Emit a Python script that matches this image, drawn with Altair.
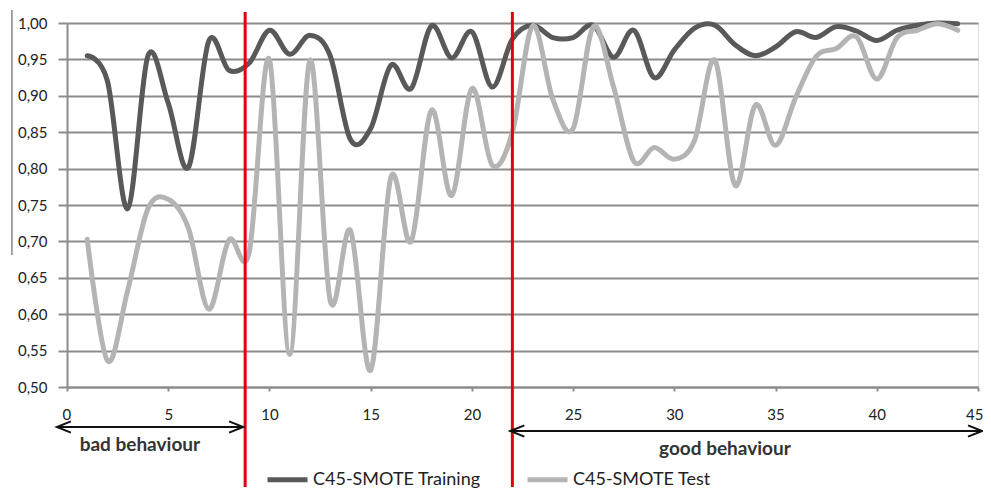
import altair as alt
import pandas as pd

# ---- data ----
x_vals = list(range(1, 45))
train = [0.955, 0.92, 0.745, 0.955, 0.89, 0.802, 0.975, 0.935, 0.945, 0.99,
         0.957, 0.983, 0.955, 0.84, 0.855, 0.942, 0.91, 0.996, 0.952, 0.988,
         0.912, 0.978, 0.997, 0.98, 0.98, 0.997, 0.953, 0.99, 0.925, 0.963,
         0.993, 0.997, 0.97, 0.955, 0.967, 0.988, 0.98, 0.995, 0.989, 0.976,
         0.99, 0.997, 1.0, 0.999]
test = [0.703, 0.536, 0.633, 0.745, 0.758, 0.718, 0.607, 0.702, 0.685, 0.95,
        0.545, 0.949, 0.619, 0.715, 0.523, 0.788, 0.70, 0.88, 0.763, 0.91,
        0.805, 0.85, 0.996, 0.895, 0.855, 0.995, 0.912, 0.81, 0.829, 0.813,
        0.839, 0.949, 0.777, 0.887, 0.832, 0.898, 0.954, 0.965, 0.981, 0.923,
        0.98, 0.99, 0.999, 0.99]
series_names = ["C45-SMOTE Training", "C45-SMOTE Test"]
series_colors = ["#595959", "#b4b4b4"]
y_ticks = [0.50, 0.55, 0.60, 0.65, 0.70, 0.75, 0.80, 0.85, 0.90, 0.95, 1.00]
x_ticks = [0, 5, 10, 15, 20, 25, 30, 35, 40, 45]
boundary_x = [8.8, 22.0]
bad_span = [-0.5, 8.7]
good_span = [21.9, 45.2]
bad_label = "bad behaviour"
good_label = "good behaviour"
bad_label_x = [3.6]
good_label_x = [32.5]
edge_x = [-2.72]

FONT = "Lato"
GRID = "#8c8c8c"

df_train = pd.DataFrame({"x": x_vals, "value": train, "series": series_names[0]})
df_test = pd.DataFrame({"x": x_vals, "value": test, "series": series_names[1]})

xscale = alt.Scale(domain=[0, 45], nice=False, zero=False)
yscale = alt.Scale(domain=[0.5, 1.0], nice=False, zero=False)

xaxis = alt.Axis(values=x_ticks, tickCount=20, title=None, grid=False, domainColor=GRID,
                 domainWidth=2, tickColor=GRID, tickWidth=2, tickSize=4, labelFontSize=15,
                 labelFont=FONT, labelColor="#222", labelPadding=16, labelFlush=True,
                 labelFlushOffset=5, labelOverlap=False)
yaxis = alt.Axis(values=y_ticks, tickCount=20, title=None, grid=True, gridColor=GRID,
                 gridWidth=2, domainColor=GRID, domainWidth=2, tickColor=GRID, tickWidth=2,
                 tickSize=9, labelFontSize=15, labelFont=FONT, labelColor="#222",
                 labelPadding=11, labelOverlap=False,
                 labelExpr="replace(format(datum.value, '.2f'), '.', ',')")

color = alt.Color("series:N", scale=alt.Scale(domain=series_names, range=series_colors),
                  legend=alt.Legend(title=None, orient="none", legendX=198, legendY=434,
                                    direction="horizontal", symbolType="stroke",
                                    symbolSize=1600, symbolStrokeWidth=5,
                                    labelFontSize=18, labelFont=FONT, labelColor="#222",
                                    labelLimit=400, labelOffset=3, columnPadding=36))

train_line = alt.Chart(df_train).mark_line(interpolate="cardinal", strokeWidth=5,
                                           strokeCap="round", strokeJoin="round").encode(
    x=alt.X("x:Q", scale=xscale, axis=xaxis),
    y=alt.Y("value:Q", scale=yscale, axis=yaxis),
    color=color,
)
test_line = alt.Chart(df_test).mark_line(interpolate="cardinal", strokeWidth=5,
                                         strokeCap="round", strokeJoin="round").encode(
    x=alt.X("x:Q", scale=xscale),
    y=alt.Y("value:Q", scale=yscale),
    color=color,
)

red = alt.Chart(pd.DataFrame({"x": boundary_x})).mark_rule(color="#e3000f", strokeWidth=3).encode(
    x=alt.X("x:Q", scale=xscale), y=alt.value(-11), y2=alt.value(464))

edge = alt.Chart(pd.DataFrame({"x": edge_x})).mark_rule(color="#666", strokeWidth=1.2).encode(
    x=alt.X("x:Q", scale=xscale), y=alt.value(-13), y2=alt.value(232))


def arrow(span, ypix):
    d = pd.DataFrame({"x": [span[0]], "x2": [span[1]]})
    shaft = alt.Chart(d).mark_rule(color="#111", strokeWidth=2).encode(
        x=alt.X("x:Q", scale=xscale), x2="x2:Q", y=alt.value(ypix))
    left = alt.Chart(pd.DataFrame({"x": [span[0]]})).mark_point(
        shape="M2,-0.8L0,0L2,0.8", size=196, filled=False, color="#111", strokeWidth=2, opacity=1
    ).encode(x=alt.X("x:Q", scale=xscale), y=alt.value(ypix))
    right = alt.Chart(pd.DataFrame({"x": [span[1]]})).mark_point(
        shape="M-2,-0.8L0,0L-2,0.8", size=196, filled=False, color="#111", strokeWidth=2, opacity=1
    ).encode(x=alt.X("x:Q", scale=xscale), y=alt.value(ypix))
    return shaft + left + right


def label(xs, text, ypix):
    return alt.Chart(pd.DataFrame({"x": xs, "t": [text]})).mark_text(
        font=FONT, fontSize=19, fontWeight="bold", color="#333", baseline="middle", align="center"
    ).encode(x=alt.X("x:Q", scale=xscale), y=alt.value(ypix), text="t:N")


chart = alt.layer(
    train_line, test_line, red, edge,
    arrow(bad_span, 404), arrow(good_span, 408),
    label(bad_label_x, bad_label, 422), label(good_label_x, good_label, 426),
).properties(
    width=911, height=364,
    autosize=alt.AutoSizeParams(type="none"),
    padding={"left": 59, "top": 15, "right": 5, "bottom": 106},
).configure_view(stroke=None).configure(font=FONT)

chart.save("out.html", embed_options={"renderer": "svg", "actions": False})
